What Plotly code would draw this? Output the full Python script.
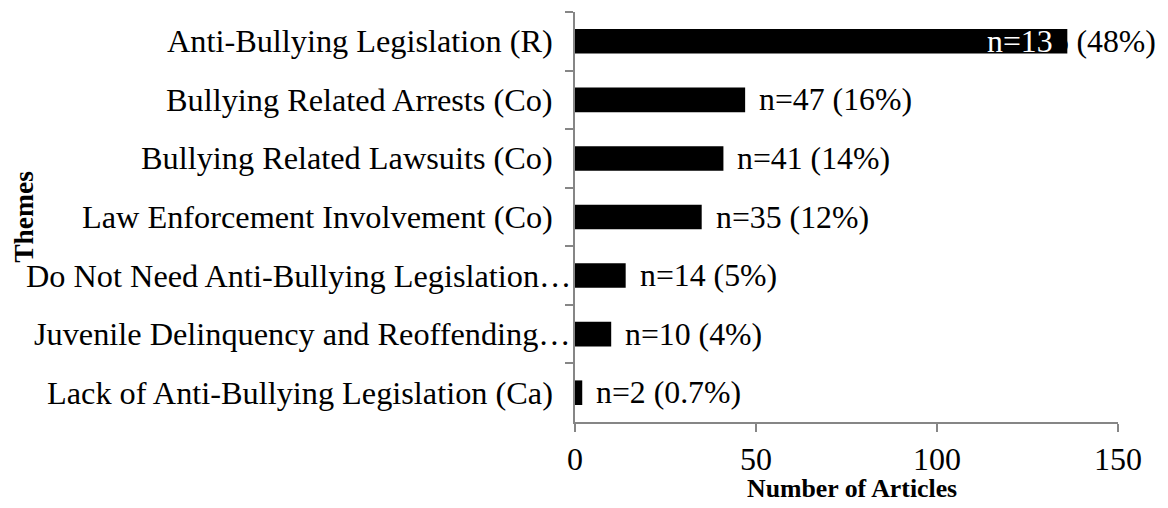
import plotly.graph_objects as go

categories = [
    "Anti-Bullying Legislation (R)",
    "Bullying Related Arrests (Co)",
    "Bullying Related Lawsuits (Co)",
    "Law Enforcement Involvement (Co)",
    "Do Not Need Anti-Bullying Legislation…",
    "Juvenile Delinquency and Reoffending…",
    "Lack of Anti-Bullying Legislation (Ca)",
]
counts = [136, 47, 41, 35, 14, 10, 2]
pct_labels = ["48%", "16%", "14%", "12%", "5%", "4%", "0.7%"]
x_ticks = [0, 50, 100, 150]

FONT = "Liberation Serif"
AXIS_GREY = "#868686"
LABEL_SIZE = 31.8
CAT_SIZE = 32.3

fig = go.Figure()
fig.add_trace(go.Bar(
    y=categories, x=counts, orientation="h",
    marker=dict(color="black", line=dict(width=0)),
    showlegend=False, hoverinfo="skip",
))

annotations = []
# category labels (truncated labels sit closer to the axis, as in the source)
for cat in categories:
    annotations.append(dict(x=0, y=cat, xref="paper", yref="y", text=cat,
                            showarrow=False, xanchor="right",
                            xshift=-2 if cat.endswith("…") else -20,
                            font=dict(family=FONT, size=CAT_SIZE, color="black")))

for cat, n, p in zip(categories, counts, pct_labels):
    txt = f"n={n} ({p})"
    if n > 120:
        # label is pushed left into the bar (as in the source chart)
        annotations.append(dict(x=n, y=cat, xref="x", yref="y", text=txt,
                                showarrow=False, xanchor="left", xshift=-82,
                                font=dict(family=FONT, size=LABEL_SIZE, color="black")))
        annotations.append(dict(x=n, y=cat, xref="x", yref="y", text=txt[:4],
                                showarrow=False, xanchor="left", xshift=-82,
                                font=dict(family=FONT, size=LABEL_SIZE, color="white")))
    else:
        annotations.append(dict(x=n, y=cat, xref="x", yref="y", text=txt,
                                showarrow=False, xanchor="left", xshift=12,
                                font=dict(family=FONT, size=LABEL_SIZE, color="black")))

annotations.append(dict(x=-1.017, y=0.5, xref="paper", yref="paper", text="<b>Themes</b>",
                        textangle=-90, showarrow=False, xanchor="center", yanchor="middle",
                        font=dict(family=FONT, size=27.5, color="black")))
annotations.append(dict(x=0.51, y=-0.161, xref="paper", yref="paper", text="<b>Number of Articles</b>",
                        showarrow=False, xanchor="center", yanchor="middle",
                        font=dict(family=FONT, size=25.8, color="black")))

fig.update_layout(
    width=1168, height=508,
    margin=dict(l=567, r=58, t=4, b=94),
    paper_bgcolor="white", plot_bgcolor="white",
    bargap=0.58,
    annotations=annotations,
    font=dict(family=FONT, color="black"),
)
fig.update_xaxes(
    range=[0, 150], tickvals=x_ticks, ticktext=[str(v) for v in x_ticks],
    showgrid=False, zeroline=False,
    showline=True, linecolor=AXIS_GREY, linewidth=2,
    ticks="outside", ticklen=8, tickcolor=AXIS_GREY, tickwidth=2,
    tickfont=dict(family=FONT, size=32, color="black"),
    automargin=False,
)
fig.update_yaxes(
    type="category", autorange="reversed",
    showgrid=False, zeroline=False,
    showline=True, linecolor=AXIS_GREY, linewidth=2,
    ticks="outside", ticklen=8, tickcolor=AXIS_GREY, tickwidth=2,
    tickson="boundaries",
    showticklabels=False,
    automargin=False,
)

fig.write_html("out.html")
